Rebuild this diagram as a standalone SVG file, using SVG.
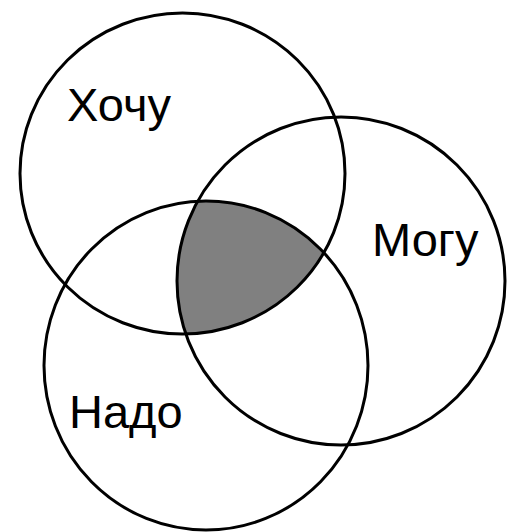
<svg xmlns="http://www.w3.org/2000/svg" width="507" height="532" viewBox="0 0 507 532">
<style>
.c{fill:none;stroke:#000;stroke-width:3}
.t{font-family:"Liberation Sans",Arial,sans-serif;font-size:47px;fill:#000}
</style>
<defs>
<clipPath id="cM"><ellipse cx="341" cy="281" rx="164" ry="164"/></clipPath>
<clipPath id="cN"><ellipse cx="206" cy="365.5" rx="162" ry="164.5"/></clipPath>
</defs>
<rect width="507" height="532" fill="#fff"/>
<g id="overlap" clip-path="url(#cM)">
<ellipse cx="182.5" cy="173.5" rx="162.5" ry="160.5" fill="#808080" clip-path="url(#cN)"/>
</g>
<g id="want">
<ellipse class="c" cx="182.5" cy="173.5" rx="162.5" ry="160.5"/>
<text class="t" x="67" y="121">Хочу</text>
</g>
<g id="can">
<ellipse class="c" cx="341" cy="281" rx="164" ry="164"/>
<text class="t" x="372" y="256">Могу</text>
</g>
<g id="must">
<ellipse class="c" cx="206" cy="365.5" rx="162" ry="164.5"/>
<text class="t" x="69" y="428">Надо</text>
</g>
</svg>
